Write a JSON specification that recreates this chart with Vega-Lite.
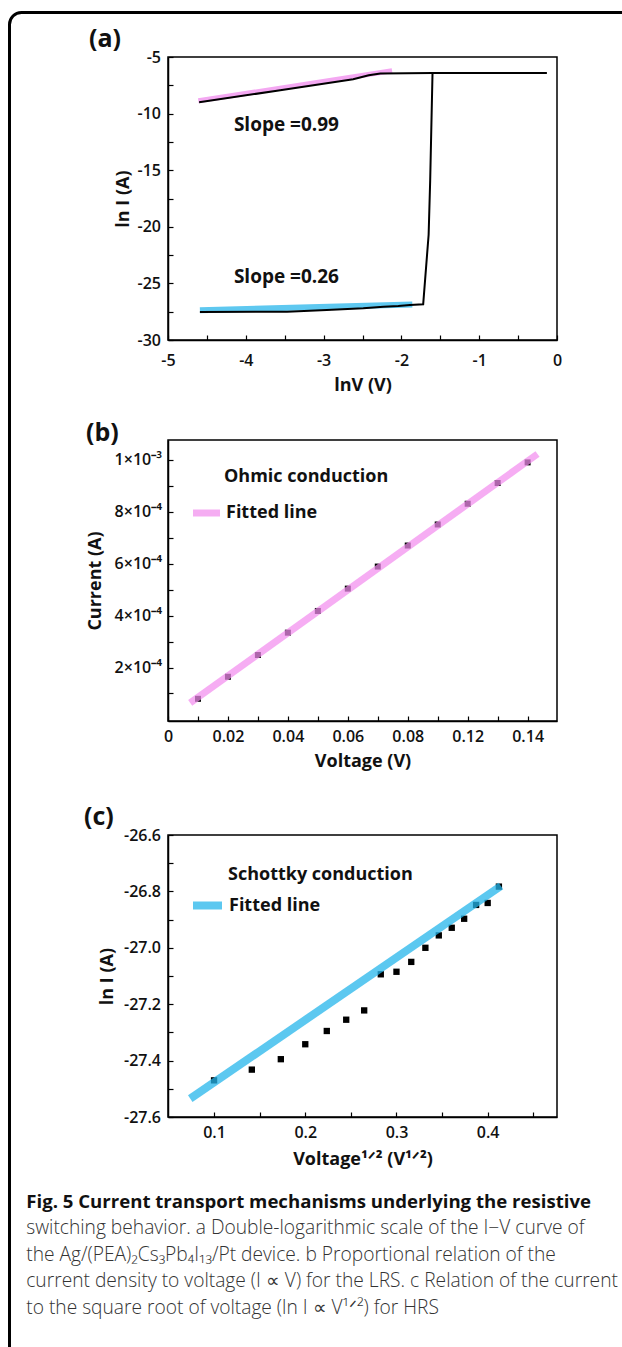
{
  "$schema": "https://vega.github.io/schema/vega-lite/v6.json",
  "background": "white",
  "autosize": {"type": "none"},
  "padding": {"left": 168, "top": 57, "right": 454, "bottom": 1290},
  "config": {
    "font": "Open Sans",
    "view": {"stroke": "#000", "strokeWidth": 1.5},
    "legend": {"strokeWidth": 3},
    "axis": {
      "grid": false, "domainColor": "#000", "domainWidth": 1.5,
      "tickColor": "#000", "tickWidth": 1.2, "tickSize": -5,
      "labelFont": "Open Sans", "labelFontSize": 16, "labelFontWeight": 600, "labelColor": "#111",
      "labelOverlap": false, "labelFlush": false,
      "titleFont": "Open Sans", "titleFontSize": 18, "titleFontWeight": "bold", "titleColor": "#111"
    }
  },
  "datasets": {
    "a_curve": [
      {"seg": "HRS", "i": 1, "x": -4.59, "y": -27.52},
      {"seg": "HRS", "i": 2, "x": -3.47, "y": -27.5},
      {"seg": "HRS", "i": 3, "x": -2.96, "y": -27.36},
      {"seg": "HRS", "i": 4, "x": -2.49, "y": -27.2},
      {"seg": "HRS", "i": 5, "x": -2.23, "y": -27.06},
      {"seg": "HRS", "i": 6, "x": -2.04, "y": -27.0},
      {"seg": "HRS", "i": 7, "x": -1.89, "y": -26.9},
      {"seg": "HRS", "i": 8, "x": -1.72, "y": -26.84},
      {"seg": "HRS", "i": 9, "x": -1.65, "y": -20.7},
      {"seg": "HRS", "i": 10, "x": -1.63, "y": -15.9},
      {"seg": "HRS", "i": 11, "x": -1.6, "y": -6.42},
      {"seg": "HRS", "i": 12, "x": -0.13, "y": -6.42},
      {"seg": "LRS", "i": 1, "x": -4.6, "y": -9.0},
      {"seg": "LRS", "i": 2, "x": -3.6, "y": -7.98},
      {"seg": "LRS", "i": 3, "x": -2.62, "y": -6.97},
      {"seg": "LRS", "i": 4, "x": -2.42, "y": -6.62},
      {"seg": "LRS", "i": 5, "x": -2.27, "y": -6.45},
      {"seg": "LRS", "i": 6, "x": -1.6, "y": -6.42}
    ],
    "a_fits": [
      {"fit": "LRS", "x": -4.61, "y": -8.87},
      {"fit": "LRS", "x": -2.12, "y": -6.22},
      {"fit": "HRS", "x": -4.59, "y": -27.37},
      {"fit": "HRS", "x": -1.86, "y": -26.86}
    ],
    "a_notes": [
      {"x": -4.153, "y": -11.0, "label": "Slope =0.99"},
      {"x": -4.153, "y": -24.42, "label": "Slope =0.26"}
    ],
    "b_points": [
      {"v": 0.01, "i": 0.0000795},
      {"v": 0.02, "i": 0.0001645},
      {"v": 0.03, "i": 0.0002483},
      {"v": 0.04, "i": 0.0003344},
      {"v": 0.05, "i": 0.0004181},
      {"v": 0.06, "i": 0.0005042},
      {"v": 0.07, "i": 0.0005892},
      {"v": 0.08, "i": 0.0006703},
      {"v": 0.09, "i": 0.0007514},
      {"v": 0.10, "i": 0.0008313},
      {"v": 0.11, "i": 0.0009112},
      {"v": 0.12, "i": 0.0009907}
    ],
    "b_fit": [
      {"series": "Fitted line", "v": 0.0074, "i": 0.000064},
      {"series": "Fitted line", "v": 0.1233, "i": 0.001023}
    ],
    "c_points": [
      {"s": 0.100, "ln": -27.470},
      {"s": 0.1414, "ln": -27.432},
      {"s": 0.1732, "ln": -27.395},
      {"s": 0.200, "ln": -27.342},
      {"s": 0.2236, "ln": -27.295},
      {"s": 0.2449, "ln": -27.255},
      {"s": 0.2646, "ln": -27.222},
      {"s": 0.2828, "ln": -27.094},
      {"s": 0.300, "ln": -27.085},
      {"s": 0.3162, "ln": -27.050},
      {"s": 0.3317, "ln": -27.000},
      {"s": 0.3464, "ln": -26.956},
      {"s": 0.3606, "ln": -26.929},
      {"s": 0.3742, "ln": -26.897},
      {"s": 0.3873, "ln": -26.848},
      {"s": 0.400, "ln": -26.841},
      {"s": 0.4123, "ln": -26.783}
    ],
    "c_fit": [
      {"series": "Fitted line", "s": 0.0739, "ln": -27.535},
      {"series": "Fitted line", "s": 0.4145, "ln": -26.781}
    ],
    "frame": [{"k": "frame"}]
  },
  "resolve": {"scale": {"color": "independent"}, "legend": {"color": "independent"}},
  "bounds": "flush",
  "spacing": 0,
  "vconcat": [
    {
      "resolve": {"scale": {"color": "independent"}, "legend": {"color": "independent"}},
      "bounds": "full",
      "spacing": 25,
      "title": {
        "text": "Fig. 5 Current transport mechanisms underlying the resistive",
        "subtitle": [
          "switching behavior. a Double-logarithmic scale of the I−V curve of",
          "the Ag/(PEA)₂Cs₃Pb₄I₁₃/Pt device. b Proportional relation of the",
          "current density to voltage (I ∝ V) for the LRS. c Relation of the current",
          "to the square root of voltage (ln I ∝ V¹ᐟ²) for HRS"
        ],
        "orient": "bottom", "anchor": "start", "frame": "bounds", "dx": -57, "offset": 24,
        "font": "Open Sans", "fontSize": 18.6, "fontWeight": "bold", "color": "#111",
        "subtitleFont": "Open Sans", "subtitleFontSize": 19.2, "subtitleFontWeight": 300, "subtitleColor": "#333",
        "subtitleLineHeight": 26.4, "subtitlePadding": 8
      },
      "vconcat": [
        {
          "width": 389, "height": 283,
          "title": {"text": "(a)", "anchor": "start", "frame": "group", "dx": -79, "offset": -3, "fontSize": 25, "fontWeight": "bold", "font": "Open Sans", "color": "#111"},
          "encoding": {
            "x": {"field": "x", "type": "quantitative", "scale": {"domain": [-5, 0], "nice": false, "zero": false},
              "axis": {"title": "lnV (V)", "values": [-5, -4.5, -4, -3.5, -3, -2.5, -2, -1.5, -1, -0.5, 0],
                "labelExpr": "datum.value % 1 === 0 ? '' + datum.value : ''", "labelPadding": 17, "titlePadding": 8}},
            "y": {"field": "y", "type": "quantitative", "scale": {"domain": [-30, -5], "nice": false, "zero": false},
              "axis": {"title": "ln I (A)", "values": [-30, -27.5, -25, -22.5, -20, -17.5, -15, -12.5, -10, -7.5, -5],
                "labelExpr": "datum.value % 5 === 0 ? '' + datum.value : ''", "labelPadding": 12.5, "titlePadding": 5}}
          },
          "layer": [
            {"data": {"name": "a_fits"}, "transform": [{"filter": "datum.fit === 'LRS'"}],
              "mark": {"type": "line", "color": "#F4A8F2", "strokeWidth": 5, "strokeCap": "butt"}},
            {"data": {"name": "a_fits"}, "transform": [{"filter": "datum.fit === 'HRS'"}],
              "mark": {"type": "line", "color": "#5EC8F0", "strokeWidth": 6, "strokeCap": "butt"}},
            {"data": {"name": "a_curve"},
              "mark": {"type": "line", "color": "#000", "strokeWidth": 2},
              "encoding": {"detail": {"field": "seg"}, "order": {"field": "i", "type": "quantitative"}}},
            {"data": {"name": "a_notes"},
              "mark": {"type": "text", "align": "left", "baseline": "middle", "font": "Open Sans", "fontSize": 19, "fontWeight": "bold", "color": "#111"},
              "encoding": {"text": {"field": "label"}}}
          ]
        },
        {
          "width": 389, "height": 281,
          "title": {"text": "(b)", "anchor": "start", "frame": "group", "dx": -82, "offset": -6, "fontSize": 25, "fontWeight": "bold", "font": "Open Sans", "color": "#111"},
          "encoding": {
            "x": {"field": "v", "type": "quantitative", "scale": {"domain": [0, 0.1298], "nice": false, "zero": false},
              "axis": {"title": "Voltage (V)", "values": [0, 0.01, 0.02, 0.03, 0.04, 0.05, 0.06, 0.07, 0.08, 0.09, 0.1, 0.11, 0.12],
                "labelExpr": "datum.value === 0 ? '0' : (abs(datum.value - 0.1) < 0.001 ? '0.12' : (abs(datum.value - 0.12) < 0.001 ? '0.14' : (round(datum.value * 100) % 2 === 0 ? format(datum.value, '.2f') : '')))",
                "labelPadding": 12, "titlePadding": 8}},
            "y": {"field": "i", "type": "quantitative", "scale": {"domain": [-0.000006, 0.001077], "nice": false, "zero": false},
              "axis": {"title": "Current (A)", "values": [0.0001, 0.0002, 0.0003, 0.0004, 0.0005, 0.0006, 0.0007, 0.0008, 0.0009, 0.001],
                "labelExpr": "round(datum.value * 10000) === 10 ? '1×10⁻³' : (round(datum.value * 10000) % 2 === 0 ? round(datum.value * 10000) + '×10⁻⁴' : '')",
                "labelPadding": 11.5, "titlePadding": 10}}
          },
          "layer": [
            {"data": {"name": "b_points"},
              "mark": {"type": "point", "shape": "square", "filled": true, "color": "#000", "size": 36, "opacity": 1}},
            {"data": {"name": "b_fit"},
              "mark": {"type": "line", "strokeWidth": 7, "opacity": 0.72, "strokeCap": "butt"},
              "encoding": {"color": {"field": "series", "type": "nominal", "scale": {"domain": ["Fitted line"], "range": ["#F28EEE"]},
                "legend": {"title": "Ohmic conduction", "orient": "none", "legendX": 21.5, "legendY": 28, "padding": 0,
                  "symbolType": "stroke", "symbolSize": 729, "symbolStrokeWidth": 7, "symbolOpacity": 0.72,
                  "labelFont": "Open Sans", "labelFontSize": 18, "labelFontWeight": "bold", "labelColor": "#111", "labelOffset": 2.5,
                  "titleFont": "Open Sans", "titleFontSize": 18, "titleFontWeight": "bold", "titleColor": "#111", "titlePadding": 10, "titleLimit": 500,
                  "encode": {"title": {"update": {"dx": {"value": 34.5}}}, "symbols": {"update": {"strokeCap": {"value": "butt"}}}}}}}}
          ]
        },
        {
          "width": 389, "height": 282,
          "title": {"text": ["", "(c)"], "lineHeight": 8, "anchor": "start", "frame": "group", "dx": -84, "offset": -3, "fontSize": 25, "fontWeight": "bold", "font": "Open Sans", "color": "#111"},
          "encoding": {
            "x": {"field": "s", "type": "quantitative", "scale": {"domain": [0.0495, 0.476], "nice": false, "zero": false},
              "axis": {"title": "Voltage¹ᐟ² (V¹ᐟ²)", "values": [0.1, 0.15, 0.2, 0.25, 0.3, 0.35, 0.4, 0.45],
                "labelExpr": "round(datum.value * 100) % 10 === 0 ? format(datum.value, '.1f') : ''", "labelPadding": 12, "titlePadding": 10}},
            "y": {"field": "ln", "type": "quantitative", "scale": {"domain": [-27.6, -26.6], "nice": false, "zero": false},
              "axis": {"title": "ln I (A)", "values": [-27.6, -27.5, -27.4, -27.3, -27.2, -27.1, -27.0, -26.9, -26.8, -26.7, -26.6],
                "labelExpr": "round(datum.value * 10) % 2 === 0 ? replace(format(datum.value, '.1f'), '−', '-') : ''",
                "labelPadding": 12.5, "titlePadding": 7}}
          },
          "layer": [
            {"data": {"name": "c_points"},
              "mark": {"type": "point", "shape": "square", "filled": true, "color": "#000", "size": 40, "opacity": 1}},
            {"data": {"name": "c_fit"},
              "mark": {"type": "line", "strokeWidth": 8, "opacity": 0.75, "strokeCap": "butt"},
              "encoding": {"color": {"field": "series", "type": "nominal", "scale": {"domain": ["Fitted line"], "range": ["#26B6EB"]},
                "legend": {"title": "Schottky conduction", "orient": "none", "legendX": 21, "legendY": 31, "padding": 0,
                  "symbolType": "stroke", "symbolSize": 841, "symbolStrokeWidth": 8, "symbolOpacity": 0.75,
                  "labelFont": "Open Sans", "labelFontSize": 18, "labelFontWeight": "bold", "labelColor": "#111", "labelOffset": 3,
                  "titleFont": "Open Sans", "titleFontSize": 18, "titleFontWeight": "bold", "titleColor": "#111", "titlePadding": 3, "titleLimit": 500,
                  "encode": {"title": {"update": {"dx": {"value": 39}}}, "symbols": {"update": {"strokeCap": {"value": "butt"}}}}}}}}
          ]
        }
      ]
    },
    {
      "width": 1, "height": 1,
      "view": {"stroke": null, "fill": null},
      "data": {"name": "frame"},
      "mark": {"type": "point", "opacity": 0},
      "encoding": {"color": {"field": "k", "type": "nominal", "scale": {"range": ["#ffffff"]},
        "legend": {"title": null, "orient": "none", "legendX": -158.5, "legendY": -44.5, "padding": 680,
          "strokeColor": "#000", "cornerRadius": 12, "symbolOpacity": 0, "labelOpacity": 0, "symbolSize": 1, "labelFontSize": 1,
          "encode": {"legend": {"update": {"strokeWidth": {"value": 3}, "stroke": {"value": "#000"}}}}}}}
    }
  ]
}
